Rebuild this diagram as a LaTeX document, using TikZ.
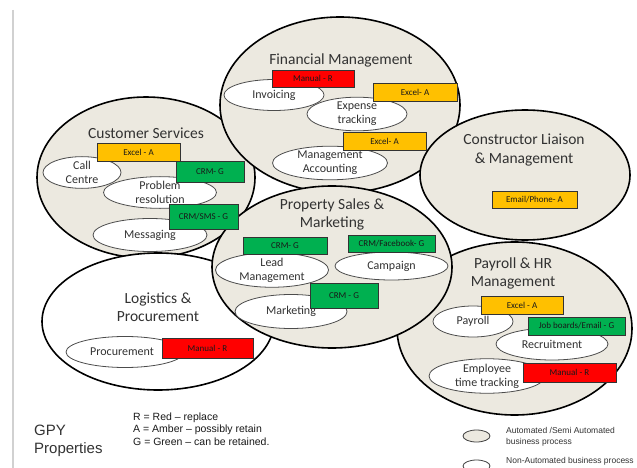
\documentclass[tikz,border=0pt]{standalone}
\usepackage{fontspec}
\setmainfont{Carlito}
\newfontfamily\arialf{Liberation Sans}
\usetikzlibrary{shapes.geometric}
\definecolor{beige}{RGB}{236,233,224}
\definecolor{tagred}{RGB}{255,0,0}
\definecolor{tagamber}{RGB}{255,192,0}
\definecolor{taggreen}{RGB}{0,176,80}
\definecolor{txt}{RGB}{50,50,50}
\begin{document}
\begin{tikzpicture}[x=1pt,y=-1pt,
  area/.style={ellipse, draw=black, line width=1.6pt, fill=beige, inner sep=0pt},
  areawhite/.style={area, fill=white},
  titletext/.style={font=\fontsize{15.5}{18}\selectfont, text=txt, align=center, inner sep=0pt},
  proc/.style={ellipse, draw=black!70, line width=0.8pt, fill=white, inner sep=0pt,
    font=\fontsize{12}{14}\selectfont, text=txt, align=center},
  tag/.style={rectangle, draw=black!80, line width=0.8pt, inner sep=0pt,
    font=\fontsize{9}{10}\selectfont, text=black!90},
  tagR/.style={tag, fill=tagred},
  tagA/.style={tag, fill=tagamber},
  tagG/.style={tag, fill=taggreen},
  legtext/.style={font=\arialf\fontsize{8.5}{11}\selectfont, text=black!80, align=left, anchor=west, inner sep=0pt}
]
\useasboundingbox (0,0) rectangle (637,468);
\fill[white] (0,0) rectangle (637,468);
\coordinate (vtop) at (13,10);
\coordinate (vbot) at (13,468);
\draw[black!18, line width=2pt] (vtop) -- (vbot);

% big areas
\node[area, minimum width=218pt, minimum height=161pt] (cs) at (146,177.5) {};
\node[area, minimum width=240pt, minimum height=176pt] (fm) at (340,105) {};
\node[area, minimum width=210pt, minimum height=130pt] (cl) at (525,175) {};
\node[areawhite, minimum width=232pt, minimum height=137pt] (lp) at (158,321.5) {};
\node[area, minimum width=235pt, minimum height=173pt] (pr) at (514.5,328.5) {};
\node[area, minimum width=240pt, minimum height=162pt] (ps) at (332,267) {};

% titles
\node[titletext] (fmt) at (341,60) {Financial Management};
\node[titletext] (cst) at (146,133) {Customer Services};
\node[titletext] (clt) at (524,150) {Constructor Liaison\\\& Management};
\node[titletext] (pst) at (332,214) {Property Sales \&\\Marketing};
\node[titletext] (prt) at (513,273.5) {Payroll \& HR\\Management};
\node[titletext] (lpt) at (158,307.5) {Logistics \&\\Procurement};

% process ellipses
\node[proc, minimum width=100pt, minimum height=31pt] (inv) at (274,95) {Invoicing};
\node[proc, minimum width=100pt, minimum height=30pt] (exp) at (357,114) {Expense\\tracking};
\node[proc, minimum width=115pt, minimum height=30pt] (mac) at (330,163) {Management\\Accounting};
\node[proc, minimum width=78pt, minimum height=31pt] (cc) at (82,172.5) {Call\\Centre};
\node[proc, minimum width=113pt, minimum height=31pt] (prb) at (160,192.5) {Problem\\resolution};
\node[proc, minimum width=114pt, minimum height=33pt] (msg) at (150,235) {Messaging};
\node[proc, minimum width=113pt, minimum height=29pt] (lead) at (272,270) {Lead\\Management};
\node[proc, minimum width=113pt, minimum height=28pt] (camp) at (391.5,266) {Campaign};
\node[proc, minimum width=112pt, minimum height=34pt] (mkt) at (291,311.5) {Marketing};
\node[proc, minimum width=80pt, minimum height=31pt] (pay) at (473,321.5) {Payroll};
\node[proc, minimum width=112pt, minimum height=32pt] (rec) at (552,344) {Recruitment};
\node[proc, minimum width=116pt, minimum height=30pt] (ett) at (487,376) {Employee\\time tracking};
\node[proc, minimum width=118pt, minimum height=31pt] (proc) at (125,352) {Procurement\hspace*{6pt}};

% tags
\node[tagR, minimum width=82pt, minimum height=17pt] (f1) at (313,78.5) {Manual - R};
\node[tagA, minimum width=84pt, minimum height=18pt] (f2) at (415,92) {Excel- A};
\node[tagA, minimum width=83pt, minimum height=18pt] (f3) at (384.5,141) {Excel- A};
\node[tagA, minimum width=83pt, minimum height=18pt] (c1) at (138.5,152) {Excel - A};
\node[tagG, minimum width=68pt, minimum height=21pt] (c2) at (210,171.5) {CRM- G};
\node[tagG, minimum width=69pt, minimum height=25pt] (c3) at (203.5,216.5) {CRM/SMS - G};
\node[tagA, minimum width=85pt, minimum height=17pt] (k1) at (534.5,199.5) {Email/Phone- A};
\node[tagG, minimum width=84pt, minimum height=17pt] (p1) at (285,245.5) {CRM- G};
\node[tagG, minimum width=87pt, minimum height=17pt] (p2) at (391.5,243.5) {CRM/Facebook- G};
\node[tagG, minimum width=68pt, minimum height=25pt] (p3) at (344,295.5) {CRM - G};
\node[tagA, minimum width=82pt, minimum height=18pt] (h1) at (522,305) {Excel - A};
\node[tagG, minimum width=97pt, minimum height=18pt] (h2) at (576.5,326) {Job boards/Email - G};
\node[tagR, minimum width=93pt, minimum height=19pt] (h3) at (569.5,372.5) {Manual - R};
\node[tagR, minimum width=91pt, minimum height=20pt] (l1) at (207.5,348) {Manual - R};

% legend
\node[font=\arialf\fontsize{15}{18}\selectfont, text=black!80, align=left, anchor=west, inner sep=0pt] (gpy) at (34,441) {GPY\\Properties};
\node[font=\arialf\fontsize{10.5}{12.5}\selectfont, text=black!90, align=left, anchor=west, inner sep=0pt] (key) at (133,429) {R = Red – replace\\A = Amber – possibly retain\\G = Green – can be retained.};
\node[ellipse, draw=black!75, line width=0.8pt, fill=beige, minimum width=27pt, minimum height=12pt, inner sep=0pt] (lg1) at (476.5,436) {};
\node[ellipse, draw=black!75, line width=0.8pt, fill=white, minimum width=27pt, minimum height=12pt, inner sep=0pt] (lg2) at (476.5,466) {};
\node[legtext] (lt1) at (506,436.5) {Automated /Semi Automated\\business process};
\node[legtext] (lt2) at (506,461) {Non-Automated business process};
\end{tikzpicture}
\end{document}
